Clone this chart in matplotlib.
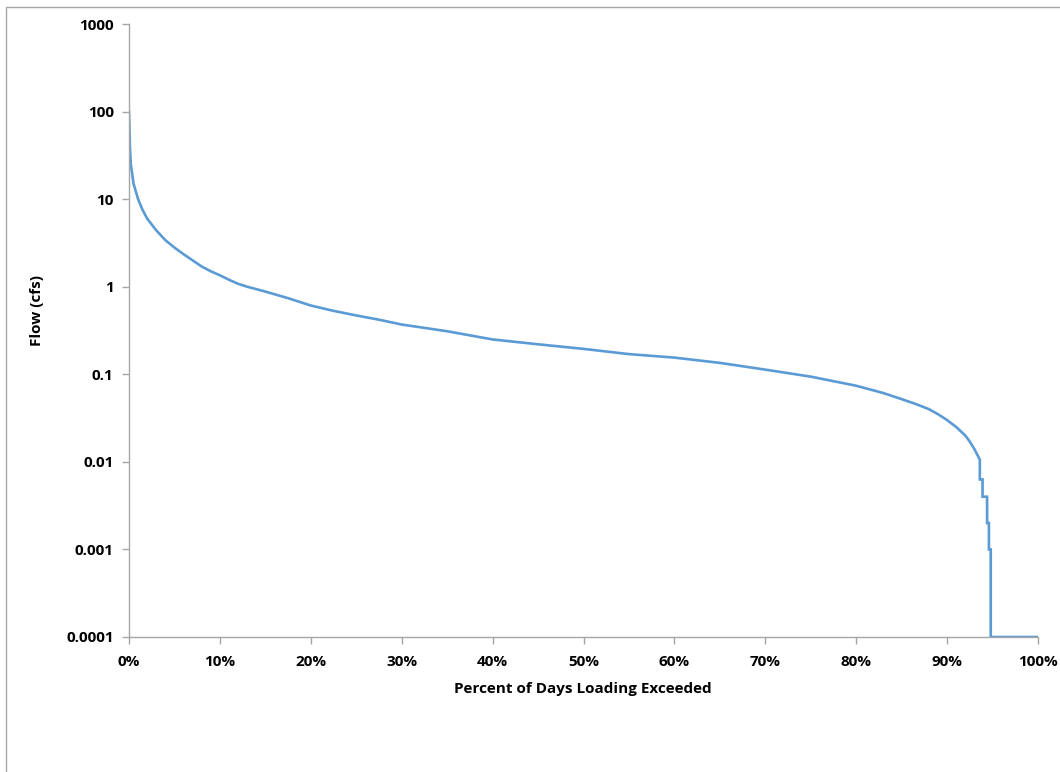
import matplotlib
matplotlib.use("Agg")
import matplotlib.pyplot as plt
from matplotlib.ticker import FixedLocator, FixedFormatter
from matplotlib.patches import Rectangle

# Flow duration curve (percent of days exceeded vs flow, cfs)
pct = [0.0, 0.1, 0.2, 0.5, 1.0, 1.5, 2.0, 3.0, 4.0, 5.0, 6.0, 7.0, 8.0, 9.0,
       10.0, 11.0, 12.0, 13.0, 15.0, 17.5, 20.0, 22.5, 25.0, 27.5, 30.0, 35.0,
       40.0, 45.0, 50.0, 55.0, 60.0, 65.0, 70.0, 75.0, 80.0, 83.0, 85.0, 86.5,
       88.0, 89.0, 90.0, 91.0, 92.0, 92.5, 93.0, 93.6, 93.6, 93.9, 93.9, 94.4,
       94.4, 94.6, 94.6, 94.8, 94.8, 95.0, 95.0, 100.0]
flow = [100, 40, 25, 15, 10, 7.5, 6.0, 4.4, 3.4, 2.8, 2.35, 2.0, 1.7, 1.5,
        1.35, 1.2, 1.08, 1.0, 0.88, 0.74, 0.61, 0.53, 0.47, 0.42, 0.37, 0.31,
        0.25, 0.22, 0.195, 0.17, 0.155, 0.135, 0.113, 0.094, 0.074, 0.061,
        0.052, 0.046, 0.04, 0.035, 0.03, 0.025, 0.02, 0.017, 0.014, 0.0106,
        0.0063, 0.0063, 0.004, 0.004, 0.002, 0.002, 0.001, 0.001, 0.0001,
        0.0001, 0.0001, 0.0001]

y_ticks = [0.0001, 0.001, 0.01, 0.1, 1, 10, 100, 1000]
y_labels = ["0.0001", "0.001", "0.01", "0.1", "1", "10", "100", "1000"]
x_ticks = [0, 10, 20, 30, 40, 50, 60, 70, 80, 90, 100]
x_labels = ["0%", "10%", "20%", "30%", "40%", "50%", "60%", "70%", "80%", "90%", "100%"]

W, H = 1060, 772
fig = plt.figure(figsize=(W / 100, H / 100), dpi=100)
font = "Open Sans"
fs = 11

# chart area border (top/left visible)
fig.patches.append(Rectangle((6 / W, -0.1), 1.2, (H - 7) / H + 0.1,
                             transform=fig.transFigure, fill=False,
                             edgecolor="#a6a6a6", linewidth=1.0))

ax = fig.add_axes([129 / W, 1 - 637 / H, (1038 - 129) / W, (637 - 24) / H])
ax.plot(pct, flow, color="#5B9BD5", linewidth=1.9, solid_joinstyle="miter")
ax.set_yscale("log")
ax.set_ylim(0.0001, 1000)
ax.set_xlim(0, 100)

ax.yaxis.set_major_locator(FixedLocator(y_ticks))
ax.yaxis.set_major_formatter(FixedFormatter(y_labels))
ax.yaxis.set_minor_locator(FixedLocator([]))
ax.xaxis.set_major_locator(FixedLocator(x_ticks))
ax.xaxis.set_major_formatter(FixedFormatter(x_labels))

for s in ["top", "right"]:
    ax.spines[s].set_visible(False)
for s in ["left", "bottom"]:
    ax.spines[s].set_color("#a6a6a6")
    ax.spines[s].set_linewidth(1.0)

ax.tick_params(axis="both", which="major", direction="out", length=5,
               color="#a6a6a6", width=1.0, labelsize=fs, labelcolor="black")
ax.tick_params(axis="y", pad=6)
ax.tick_params(axis="x", pad=8)
for lab in ax.get_xticklabels() + ax.get_yticklabels():
    lab.set_fontfamily(font)
    lab.set_fontweight("bold")

fig.text(583 / W, 1 - 689 / H, "Percent of Days Loading Exceeded",
         ha="center", va="center", fontsize=fs, fontweight="bold", family=font)
fig.text(37 / W, 1 - 310 / H, "Flow (cfs)", ha="center", va="center",
         rotation=90, fontsize=fs, fontweight="bold", family=font)

fig.savefig("out.png", dpi=100)
